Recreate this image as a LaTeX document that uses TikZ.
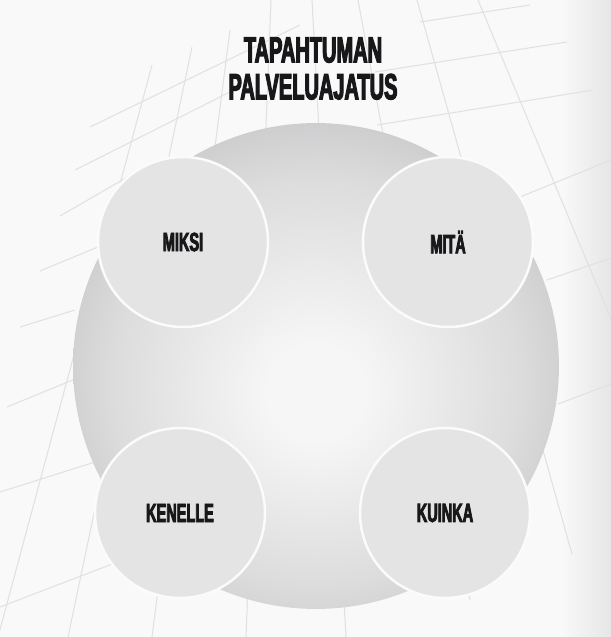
\documentclass[tikz,border=0pt]{standalone}
\usepackage{fontspec}
\setmainfont{Liberation Sans}
\newfontfamily\condfont[FakeStretch=0.55,BoldFeatures={FakeBold=3}]{Liberation Sans}
\definecolor{PalInk}{RGB}{24,24,26}
\definecolor{PalPaper}{RGB}{249,249,249}
\definecolor{PalEdge}{RGB}{230,230,231}
\definecolor{PalGrid}{RGB}{225,225,226}
\definecolor{PalDisc}{RGB}{228,228,229}
\definecolor{PalRim}{RGB}{251,251,251}
\definecolor{PalCoreIn}{RGB}{246,246,246}
\definecolor{PalCoreMid}{RGB}{220,220,221}
\definecolor{PalCoreOut}{RGB}{184,184,186}
\pgfdeclareradialshading{coreshade}{\pgfpoint{0bp}{-3bp}}{color(0bp)=(PalCoreIn); color(5bp)=(PalCoreIn); color(21bp)=(PalCoreMid); color(35bp)=(PalCoreOut); color(50bp)=(PalCoreOut)}

\begin{document}
\begin{tikzpicture}[x=0.02cm,y=-0.02cm]
    \tikzset{gridline/.style={PalGrid,line width=0.6pt},
      aspect/.style={circle,minimum size=3.4cm,inner sep=0pt,fill=PalDisc,draw=PalRim,line width=1.4pt,text=PalInk,font=\fontsize{15}{16}\condfont\bfseries},
      heading/.style={anchor=north,align=center,inner sep=0pt,text=PalInk,font=\fontsize{20.7}{21}\condfont\bfseries}}
    \useasboundingbox (0,0) rectangle (611,637);
    \clip (0,0) rectangle (611,637);
    \fill[PalPaper] (0,0) rectangle (611,637);
    \shade[left color=PalPaper,right color=PalEdge] (560,0) rectangle (611,637);
    % faint grid of the page
    \foreach \xa/\ya/\xb/\yb in {152/65/-2/637,192/47/68/637,230/30/152/637,271/0/246/637,312/0/346/637,358/0/470/600,417/0/572/554,478/0/611/319}
      \draw[gridline] (\xa,\ya) -- (\xb,\yb);
    \foreach \xa/\ya/\xb/\yb in {90/127/300/25,75/170/230/92,60/216/150/164,40/271/110/242,20/327/75/310,7/407/80/377,0/492/95/462,0/607/115/563,375/72/567/42,377/125/593/90,520/197/611/160,547/280/611/258,558/404/611/384,420/22/530/5}
      \draw[gridline] (\xa,\ya) -- (\xb,\yb);
    \node[heading] (title) at (313,37) {TAPAHTUMAN\\PALVELUAJATUS};
    \node[circle,minimum size=9.72cm,inner sep=0pt,shade,shading=coreshade] (core) at (316,366) {};
    \node[aspect] (miksi) at (183,242) {MIKSI};
    \node[aspect] (mita) at (448,242) {MITÄ};
    \node[aspect] (kenelle) at (180,513) {KENELLE};
    \node[aspect] (kuinka) at (445,513) {KUINKA};
  \end{tikzpicture}
\end{document}
